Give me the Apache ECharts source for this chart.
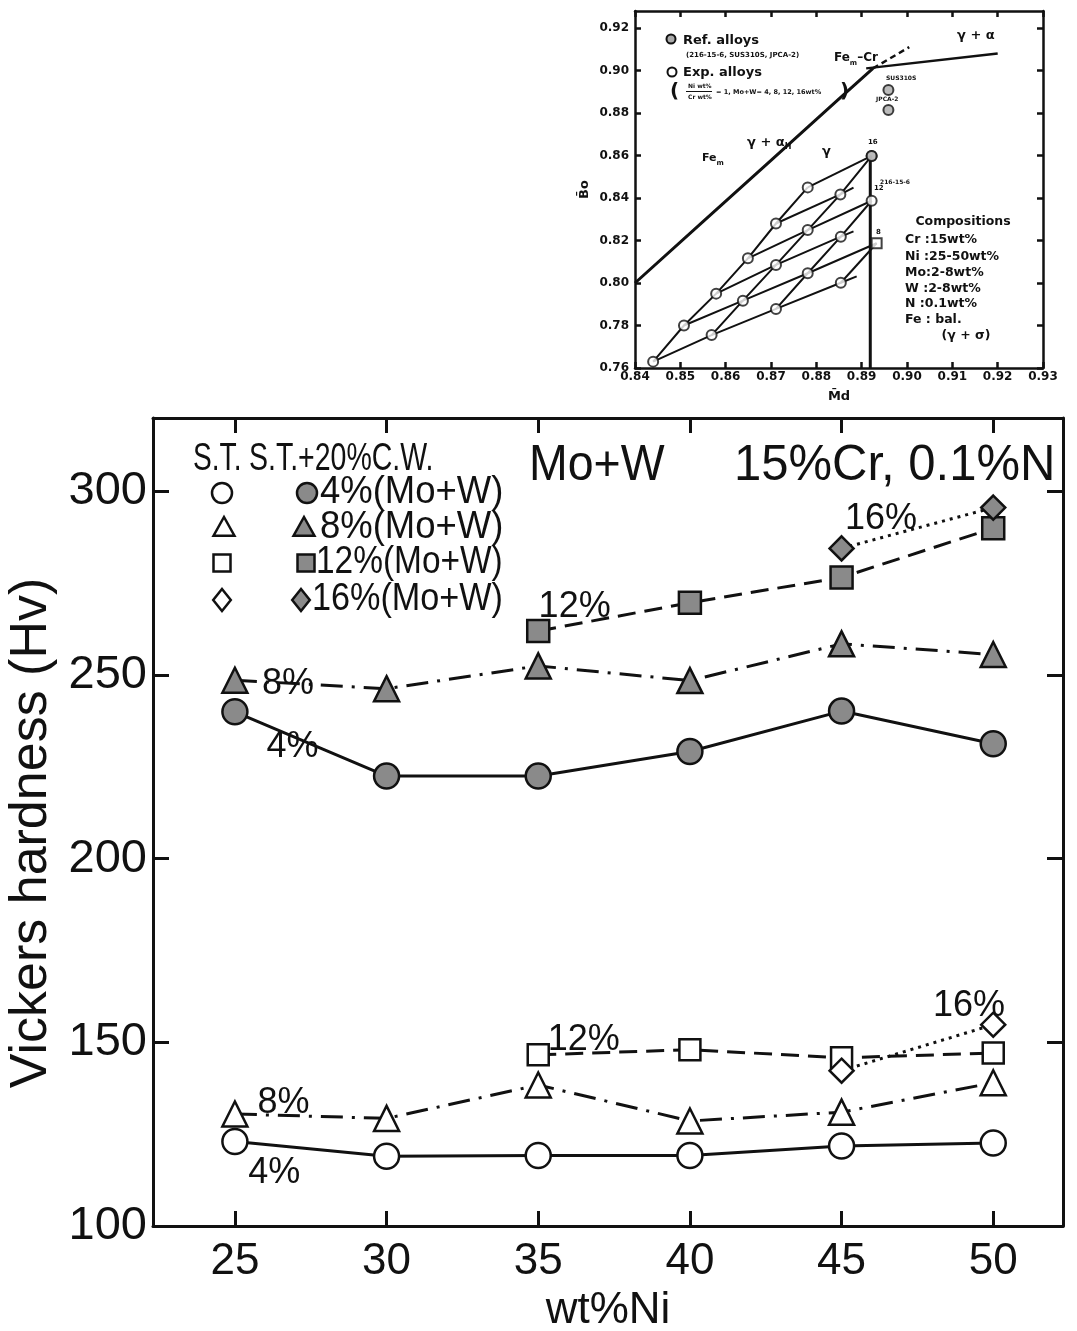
<!DOCTYPE html>
<html>
<head>
<meta charset="utf-8">
<script src="https://cdn.jsdelivr.net/npm/echarts@6/dist/echarts.min.js"></script>
<style>
html, body { margin: 0; padding: 0; background: #fff; }
#chart { width: 1077px; height: 1331px; }
</style>
</head>
<body>
<div id="chart"></div>
<script>
// ---- main chart: Vickers hardness vs Ni ----
const ni = [25, 30, 35, 40, 45, 50]
const st4 = [123, 119, 119.2, 119.2, 121.8, 122.6]      // S.T. open circle
const st8 = [130.5, 129.3, 138.4, 128.6, 131, 139]      // S.T. open triangle
const st12 = [null, null, 146.6, 148, 145.8, 147.1]     // S.T. open square
const st16 = [null, null, null, null, 142.3, 154.8]     // S.T. open diamond
const cw4 = [240, 222.5, 222.5, 229.2, 240.2, 231.3]    // CW filled circle
const cw8 = [248.6, 246.3, 252.5, 248.5, 258.5, 255.6]  // CW filled triangle
const cw12 = [null, null, 262, 269.7, 276.6, 290]       // CW filled square
const cw16 = [null, null, null, null, 284.5, 295.6]     // CW filled diamond
const hvTicks = [100, 150, 200, 250, 300]
const niTicks = [25, 30, 35, 40, 45, 50]

// ---- inset: Bo vs Md ----
const mdTicks = [0.84, 0.85, 0.86, 0.87, 0.88, 0.89, 0.90, 0.91, 0.92, 0.93]
const boTicks = [0.76, 0.78, 0.80, 0.82, 0.84, 0.86, 0.88, 0.90, 0.92]
const expMd = [0.8440, 0.8508, 0.8569, 0.8579, 0.8638, 0.8649, 0.8711, 0.8711, 0.8711,
               0.8781, 0.8781, 0.8781, 0.8854, 0.8854, 0.8853, 0.8922, 0.8922, 0.8933]
const expBo = [0.763, 0.780, 0.7755, 0.795, 0.7917, 0.8116, 0.7878, 0.8085, 0.828,
               0.8046, 0.8249, 0.845, 0.8001, 0.8218, 0.8417, 0.8598, 0.8387, 0.8187]
// point index chains joined by lines
const expChains = [
  [0, 1, 3, 5, 8, 11], [2, 4, 7, 10, 14, 15], [6, 9, 13, 16], [12, 17],
  [0, 2, 6, 12], [1, 4, 9, 17], [3, 7, 13], [5, 10, 16], [8, 14], [11, 15]
]
// short stubs past the last point
const stubFrom = [12, 13, 14]
const stubMd = [0.8889, 0.8882, 0.8882]
const stubBo = [0.8031, 0.8243, 0.8449]
const refMd = [0.8959, 0.8959, 0.8922]
const refBo = [0.8908, 0.8814, 0.8598]
const phaseMd = [0.84, 0.855, 0.87, 0.885, 0.8925]
const phaseBo = [0.80, 0.8289, 0.8577, 0.8866, 0.901]
const phaseDashMd = [0.8925, 0.9005]
const phaseDashBo = [0.901, 0.911]
const feCrMd = [0.891, 0.92]
const feCrBo = [0.901, 0.908]
const sigmaMd = [0.8919, 0.8919]
const sigmaBo = [0.76, 0.8598]

const FONT = 'Liberation Sans'
const INK = '#111'
const GRAY = '#8a8a8a'

let pairs = (xs, ys) => xs.map((x, i) => [x, ys[i]]).filter(p => p[1] != null)

let styles = {
  4: 'solid',
  8: [22, 9, 3, 9],
  12: [18, 9],
  16: [3, 5]
}

let hvSeries = (arr, symbol, size, filled, pct) => ({
  type: 'line',
  xAxisIndex: 0,
  yAxisIndex: 0,
  data: pairs(ni, arr),
  symbol: symbol,
  symbolSize: size,
  showAllSymbol: true,
  lineStyle: { color: INK, width: 3, type: styles[pct] },
  itemStyle: { color: filled ? GRAY : '#fff', borderColor: INK, borderWidth: 2.5 },
  z: 3,
  animation: false
})

// percent labels beside the curves (data coordinates)
const notes = [
  { t: '8%', x: 26.75, y: 247.5 }, { t: '4%', x: 26.9, y: 230.5 },
  { t: '12%', x: 36.2, y: 268.5 }, { t: '16%', x: 46.3, y: 292.5 },
  { t: '12%', x: 36.5, y: 150.5 }, { t: '8%', x: 26.6, y: 133.5 },
  { t: '4%', x: 26.3, y: 114.5 }, { t: '16%', x: 49.2, y: 160 }
]

let series = [
  hvSeries(cw4, 'circle', 25, true, 4),
  hvSeries(cw8, 'triangle', 25, true, 8),
  hvSeries(cw12, 'rect', 22, true, 12),
  hvSeries(cw16, 'diamond', 24, true, 16),
  hvSeries(st4, 'circle', 25, false, 4),
  hvSeries(st8, 'triangle', 25, false, 8),
  hvSeries(st12, 'rect', 21, false, 12),
  hvSeries(st16, 'diamond', 24, false, 16),
  {
    type: 'scatter',
    xAxisIndex: 0,
    yAxisIndex: 0,
    symbolSize: 0.1,
    itemStyle: { color: '#fff' },
    data: notes.map(n => ({ value: [n.x, n.y], label: { formatter: n.t } })),
    label: {
      show: true, position: 'inside', fontFamily: FONT, fontSize: 36,
      color: INK, textBorderWidth: 0, opacity: 1
    },
    emphasis: { disabled: true },
    silent: true,
    z: 2,
    animation: false
  }
]

// inset lines
let insetLine = (data, width, type) => ({
  type: 'line',
  xAxisIndex: 2,
  yAxisIndex: 2,
  data: data,
  symbol: 'none',
  lineStyle: { color: INK, width: width, type: type || 'solid' },
  silent: true,
  animation: false
})
series.push(insetLine(pairs(phaseMd, phaseBo), 3))
series.push(insetLine(pairs(phaseDashMd, phaseDashBo), 2.5, [6, 4]))
series.push(insetLine(pairs(feCrMd, feCrBo), 2.5))
series.push(insetLine(pairs(sigmaMd, sigmaBo), 3))
for (let chain of expChains) {
  series.push(insetLine(chain.map(i => [expMd[i], expBo[i]]), 2))
}
for (let k = 0; k < stubFrom.length; k++) {
  series.push(insetLine([[expMd[stubFrom[k]], expBo[stubFrom[k]]], [stubMd[k], stubBo[k]]], 2))
}
series.push({
  type: 'scatter',
  xAxisIndex: 2,
  yAxisIndex: 2,
  data: pairs(expMd.slice(0, 17), expBo.slice(0, 17)),
  symbol: 'circle',
  symbolSize: 10,
  itemStyle: { color: '#fff', borderColor: INK, borderWidth: 2 },
  z: 4,
  animation: false
})
series.push({
  type: 'scatter',
  xAxisIndex: 2,
  yAxisIndex: 2,
  data: [[expMd[17], expBo[17]]],
  symbol: 'rect',
  symbolSize: 10,
  itemStyle: { color: '#fff', borderColor: INK, borderWidth: 2 },
  z: 4,
  animation: false
})
series.push({
  type: 'scatter',
  xAxisIndex: 2,
  yAxisIndex: 2,
  data: pairs(refMd, refBo),
  symbol: 'circle',
  symbolSize: 10,
  itemStyle: { color: '#aaa', borderColor: INK, borderWidth: 2 },
  z: 5,
  animation: false
})

// axis helpers
let frameAxis = (pos, grid, min, max, ticks, tickLen, lw, showLabel, label) => ({
  type: 'value',
  gridIndex: grid,
  position: pos,
  min: min,
  max: max,
  splitLine: { show: false },
  axisLine: { show: true, onZero: false, lineStyle: { color: INK, width: lw } },
  axisTick: { show: true, inside: true, length: tickLen, customValues: ticks, lineStyle: { color: INK, width: lw } },
  axisLabel: Object.assign({ show: showLabel, customValues: ticks }, label || {})
})

let xMain = frameAxis('bottom', 0, 22.3, 52.3, niTicks, 15, 3, true,
  { margin: 14, fontFamily: FONT, fontSize: 44, color: INK })
xMain.name = 'wt%Ni'
xMain.nameLocation = 'middle'
xMain.nameGap = 55
xMain.nameTextStyle = { fontFamily: FONT, fontSize: 44, color: INK }

let yMain = frameAxis('left', 0, 100, 320, hvTicks, 16, 3, true,
  { margin: 6, fontFamily: FONT, fontSize: 47, color: INK })
yMain.name = 'Vickers hardness (Hv)'
yMain.nameLocation = 'middle'
yMain.nameGap = 92
yMain.nameTextStyle = { fontFamily: FONT, fontSize: 52, color: INK, padding: [0, 22, 0, 0] }

let smallLbl = { fontFamily: 'DejaVu Sans', fontWeight: 'bold', fontSize: 12, color: INK }
let xInset = frameAxis('bottom', 1, 0.84, 0.93, mdTicks, 6, 2.5, true,
  Object.assign({ margin: 3, formatter: v => v.toFixed(2) }, smallLbl))
xInset.name = 'M\u0304d'
xInset.nameLocation = 'middle'
xInset.nameGap = 22
xInset.nameTextStyle = { fontFamily: 'DejaVu Sans', fontWeight: 'bold', fontSize: 13, color: INK }

let yInset = frameAxis('left', 1, 0.76, 0.928, boTicks, 6, 2.5, true,
  Object.assign({ margin: 6, formatter: v => v.toFixed(2) }, smallLbl))
yInset.name = 'B\u0304o'
yInset.nameLocation = 'middle'
yInset.nameGap = 44
yInset.nameTextStyle = { fontFamily: 'DejaVu Sans', fontWeight: 'bold', fontSize: 13, color: INK }

// legend + texts
let txt = (text, x, y, size, opts, sx) => ({
  type: 'text', x: x, y: y, z: 10, scaleX: sx || 1,
  style: Object.assign({
    text: text, fill: INK, font: size + 'px "' + FONT + '"',
    align: 'left', verticalAlign: 'middle'
  }, opts || {})
})
let boldTxt = (text, x, y, size, opts) =>
  txt(text, x, y, size, Object.assign({ font: 'bold ' + size + 'px "DejaVu Sans"' }, opts || {}))

let tri = (cx, cy, r, fill) => ({
  type: 'polygon', z: 10,
  shape: { points: [[cx, cy - r], [cx + r * 0.95, cy + r * 0.7], [cx - r * 0.95, cy + r * 0.7]] },
  style: { fill: fill, stroke: INK, lineWidth: 2.5 }
})
let dia = (cx, cy, r, fill) => ({
  type: 'polygon', z: 10,
  shape: { points: [[cx, cy - r], [cx + r * 0.8, cy], [cx, cy + r], [cx - r * 0.8, cy]] },
  style: { fill: fill, stroke: INK, lineWidth: 2.5 }
})
let circ = (cx, cy, r, fill, lw) => ({
  type: 'circle', z: 10, shape: { cx: cx, cy: cy, r: r },
  style: { fill: fill, stroke: INK, lineWidth: lw || 2.5 }
})
let sq = (cx, cy, s, fill) => ({
  type: 'rect', z: 10, shape: { x: cx - s / 2, y: cy - s / 2, width: s, height: s },
  style: { fill: fill, stroke: INK, lineWidth: 2.5 }
})

let graphics = [
  txt('S.T.', 193, 460, 38, null, 0.74),
  txt('S.T.+20%C.W.', 249, 460, 38, null, 0.75),
  circ(222, 493, 10, '#fff'), circ(307, 493, 10, GRAY), txt('4%(Mo+W)', 320, 493, 38, null, 0.96),
  tri(224, 528, 11, '#fff'), tri(304, 528, 11, GRAY), txt('8%(Mo+W)', 320, 528, 38, null, 0.96),
  sq(222, 563, 17, '#fff'), sq(306, 563, 17, GRAY), txt('12%(Mo+W)', 316, 563, 38, null, 0.88),
  dia(222, 600, 11, '#fff'), dia(301, 600, 11, GRAY), txt('16%(Mo+W)', 312, 600, 38, null, 0.9),
  txt('Mo+W', 529, 466, 50, null, 0.93),
  txt('15%Cr, 0.1%N', 734, 466, 50, null, 0.98),

  // inset legend
  circ(671, 39, 4.5, '#aaa', 2),
  boldTxt('Ref. alloys', 683, 41, 13),
  boldTxt('(216-15-6, SUS310S, JPCA-2)', 686, 55, 7),
  circ(672, 72, 4.5, '#fff', 2),
  boldTxt('Exp. alloys', 683, 73, 13),
  boldTxt('(', 670, 92, 20),
  boldTxt('Ni wt%', 688, 86, 6),
  boldTxt('Cr wt%', 688, 97, 6),
  { type: 'line', z: 10, shape: { x1: 686, y1: 91.5, x2: 712, y2: 91.5 }, style: { stroke: INK, lineWidth: 1 } },
  boldTxt('= 1, Mo+W= 4, 8, 12, 16wt%', 716, 92, 6.5),
  boldTxt(')', 840, 92, 20),

  // inset region labels
  boldTxt('{a|\u03b3 + \u03b1}', 957, 36, 13, { rich: { a: { font: 'bold 13px "DejaVu Sans"' } } }),
  boldTxt('{a|Fe}{s|m}{a|\u2013Cr}', 834, 58, 12,
    { rich: { a: { font: 'bold 12px "DejaVu Sans"' }, s: { font: 'bold 7px "DejaVu Sans"', padding: [10, 0, 0, 0] } } }),
  boldTxt('{a|\u03b3 + \u03b1}{s|H}', 747, 143, 13,
    { rich: { a: { font: 'bold 13px "DejaVu Sans"' }, s: { font: 'bold 8px "DejaVu Sans"', padding: [8, 0, 0, 0] } } }),
  boldTxt('{a|Fe}{s|m}', 702, 158, 11,
    { rich: { a: { font: 'bold 11px "DejaVu Sans"' }, s: { font: 'bold 7px "DejaVu Sans"', padding: [10, 0, 0, 0] } } }),
  boldTxt('\u03b3', 822, 152, 13),
  boldTxt('SUS310S', 886, 78, 6),
  boldTxt('JPCA-2', 876, 99, 6),
  boldTxt('216-15-6', 880, 182, 6),
  boldTxt('16', 868, 142, 7),
  boldTxt('12', 874, 188, 7),
  boldTxt('8', 876, 232, 7),

  // composition box
  boldTxt('Compositions', 963, 222, 12.5, { align: 'center' }),
  boldTxt('Cr :15wt%', 905, 240, 12.5),
  boldTxt('Ni :25-50wt%', 905, 257, 12.5),
  boldTxt('Mo:2-8wt%', 905, 273, 12.5),
  boldTxt('W :2-8wt%', 905, 289, 12.5),
  boldTxt('N :0.1wt%', 905, 304, 12.5),
  boldTxt('Fe : bal.', 905, 320, 12.5),
  boldTxt('(\u03b3 + \u03c3)', 966, 336, 12.5, { align: 'center' })
]

let chart = echarts.init(document.getElementById('chart'))
chart.setOption({
  animation: false,
  backgroundColor: '#fff',
  grid: [
    { left: 153, right: 14, top: 418, bottom: 105, outerBoundsMode: 'none', containLabel: false },
    { left: 635, right: 34, top: 11, bottom: 963, outerBoundsMode: 'none', containLabel: false }
  ],
  xAxis: [
    xMain,
    frameAxis('top', 0, 22.3, 52.3, niTicks, 15, 3, false),
    xInset,
    frameAxis('top', 1, 0.84, 0.93, mdTicks, 6, 2.5, false)
  ],
  yAxis: [
    yMain,
    frameAxis('right', 0, 100, 320, hvTicks, 16, 3, false),
    yInset,
    frameAxis('right', 1, 0.76, 0.928, boTicks, 6, 2.5, false)
  ],
  series: series,
  graphic: graphics
})
</script>
</body>
</html>
